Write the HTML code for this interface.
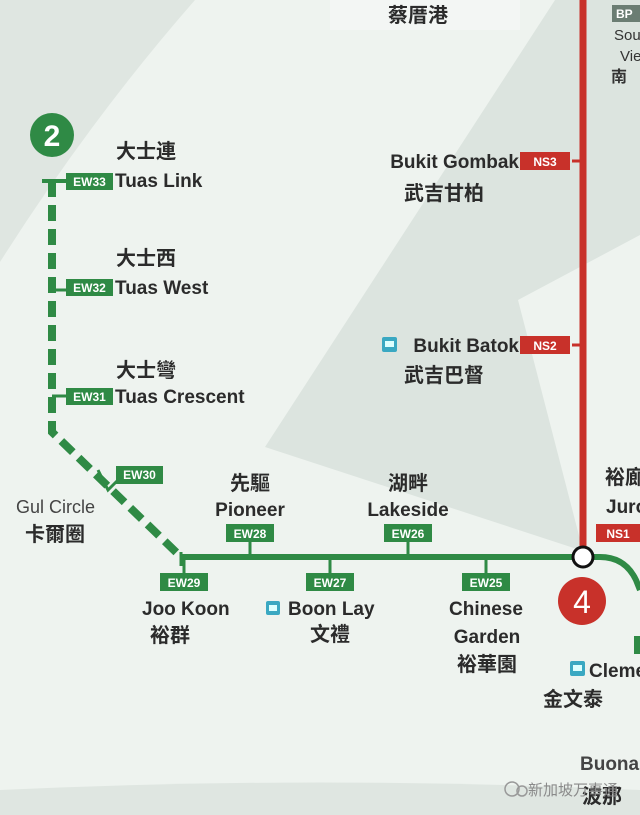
<!DOCTYPE html>
<html><head><meta charset="utf-8"><style>
html,body{margin:0;padding:0;background:#eef3ef;}
svg{display:block}
text{font-family:"Liberation Sans","Noto Sans CJK SC",sans-serif;}
.en{font-size:19px;fill:#2b2b2b;font-weight:bold;}
.cn{font-size:20px;fill:#2b2b2b;font-weight:bold;}
.code{font-size:12px;fill:#fff;font-weight:bold;}
</style></head><body>
<svg width="640" height="815" viewBox="0 0 640 815" xmlns="http://www.w3.org/2000/svg">
<rect width="640" height="815" fill="#eef3ef"/>
<path d="M0 0 L195 0 Q90 120 0 262 Z" fill="#dfe6e1"/>
<path d="M265 447 L555 0 L640 0 L640 235 L518 300 L583 551 Z" fill="#dce4df"/>
<path d="M0 790 Q320 775 640 790 L640 815 L0 815 Z" fill="#dfe6e1"/>
<rect x="330" y="0" width="190" height="30" fill="#f3f6f4"/>

<line x1="583" y1="0" x2="583" y2="557" stroke="#c8312a" stroke-width="7"/>
<line x1="572" y1="161" x2="583" y2="161" stroke="#c8312a" stroke-width="3"/>
<line x1="572" y1="345" x2="583" y2="345" stroke="#c8312a" stroke-width="3"/>

<path d="M181 557 L600 557 Q625 557 636 580 L640 590" fill="none" stroke="#2f8a45" stroke-width="6"/>
<line x1="181" y1="552" x2="181" y2="566" stroke="#2f8a45" stroke-width="3"/>
<line x1="250" y1="541" x2="250" y2="557" stroke="#2f8a45" stroke-width="3"/>
<line x1="408" y1="541" x2="408" y2="557" stroke="#2f8a45" stroke-width="3"/>
<line x1="330" y1="557" x2="330" y2="573" stroke="#2f8a45" stroke-width="3"/>
<line x1="486" y1="557" x2="486" y2="573" stroke="#2f8a45" stroke-width="3"/>
<line x1="184" y1="557" x2="184" y2="573" stroke="#2f8a45" stroke-width="3"/>

<path d="M52 181 L52 432 L180 556" fill="none" stroke="#2f8a45" stroke-width="8" stroke-dasharray="16 8"/>
<line x1="42" y1="181" x2="66" y2="181" stroke="#2f8a45" stroke-width="4"/>
<line x1="52" y1="290" x2="66" y2="290" stroke="#2f8a45" stroke-width="3"/>
<line x1="52" y1="396" x2="66" y2="396" stroke="#2f8a45" stroke-width="3"/>
<polyline points="98,470 108,490 118,480" fill="none" stroke="#2f8a45" stroke-width="3"/>

<circle cx="52" cy="135" r="22" fill="#2f8a45"/>
<text x="52" y="146" text-anchor="middle" style="font-size:30px;fill:#fff;font-weight:bold">2</text>

<g>
<rect x="66" y="173" width="47" height="17" fill="#2f8a45"/><text class="code" x="89.5" y="186" text-anchor="middle">EW33</text>
<rect x="66" y="279" width="47" height="17" fill="#2f8a45"/><text class="code" x="89.5" y="292" text-anchor="middle">EW32</text>
<rect x="66" y="388" width="47" height="17" fill="#2f8a45"/><text class="code" x="89.5" y="401" text-anchor="middle">EW31</text>
<rect x="116" y="466" width="47" height="18" fill="#2f8a45"/><text class="code" x="139.5" y="479" text-anchor="middle">EW30</text>
<rect x="226" y="524" width="48" height="18" fill="#2f8a45"/><text class="code" x="250" y="538" text-anchor="middle">EW28</text>
<rect x="384" y="524" width="48" height="18" fill="#2f8a45"/><text class="code" x="408" y="538" text-anchor="middle">EW26</text>
<rect x="160" y="573" width="48" height="18" fill="#2f8a45"/><text class="code" x="184" y="587" text-anchor="middle">EW29</text>
<rect x="306" y="573" width="48" height="18" fill="#2f8a45"/><text class="code" x="330" y="587" text-anchor="middle">EW27</text>
<rect x="462" y="573" width="48" height="18" fill="#2f8a45"/><text class="code" x="486" y="587" text-anchor="middle">EW25</text>
</g>

<rect x="520" y="152" width="50" height="18" fill="#c8312a"/><text class="code" x="545" y="166" text-anchor="middle">NS3</text>
<rect x="520" y="336" width="50" height="18" fill="#c8312a"/><text class="code" x="545" y="350" text-anchor="middle">NS2</text>
<rect x="596" y="524" width="44" height="18" fill="#c8312a"/><text class="code" x="618" y="538" text-anchor="middle">NS1</text>

<circle cx="583" cy="557" r="10" fill="#fff" stroke="#111" stroke-width="3"/>
<circle cx="582" cy="601" r="24" fill="#c8312a"/>
<text x="582" y="613" text-anchor="middle" style="font-size:32px;fill:#fff">4</text>

<text class="cn" x="116" y="158">大士連</text>
<text class="en" x="115" y="187">Tuas Link</text>
<text class="cn" x="116" y="265">大士西</text>
<text class="en" x="115" y="294">Tuas West</text>
<text class="cn" x="116" y="377">大士彎</text>
<text class="en" x="115" y="403">Tuas Crescent</text>
<text x="16" y="513" style="font-size:18px;fill:#444">Gul Circle</text>
<text class="cn" x="25" y="541">卡爾圈</text>

<text class="cn" x="250" y="490" text-anchor="middle">先驅</text>
<text class="en" x="250" y="516" text-anchor="middle">Pioneer</text>
<text class="cn" x="408" y="490" text-anchor="middle">湖畔</text>
<text class="en" x="408" y="516" text-anchor="middle">Lakeside</text>

<text class="en" x="142" y="615">Joo Koon</text>
<text class="cn" x="150" y="642">裕群</text>
<rect x="266" y="601" width="14" height="14" rx="2" fill="#3aa8c2"/>
<rect x="269" y="605" width="8" height="6" fill="#dff" />
<text class="en" x="288" y="615">Boon Lay</text>
<text class="cn" x="330" y="641" text-anchor="middle">文禮</text>
<text class="en" x="486" y="615" text-anchor="middle">Chinese</text>
<text class="en" x="487" y="643" text-anchor="middle">Garden</text>
<text class="cn" x="487" y="671" text-anchor="middle">裕華園</text>

<text class="cn" x="388" y="22">蔡厝港</text>
<text class="en" x="519" y="168" text-anchor="end">Bukit Gombak</text>
<text class="cn" x="404" y="200">武吉甘柏</text>
<rect x="382" y="337" width="15" height="15" rx="2" fill="#3aa8c2"/>
<rect x="385" y="341" width="9" height="6" fill="#dff"/>
<text class="en" x="519" y="352" text-anchor="end">Bukit Batok</text>
<text class="cn" x="404" y="382">武吉巴督</text>

<rect x="612" y="5" width="28" height="17" fill="#6b7d73"/>
<text class="code" x="616" y="18">BP</text>
<text x="614" y="40" style="font-size:15px;fill:#333">Sou</text>
<text x="620" y="61" style="font-size:15px;fill:#333">Vie</text>
<text x="611" y="82" style="font-size:16px;fill:#333;font-weight:bold">南</text>

<text class="cn" x="605" y="484">裕廊</text>
<text class="en" x="606" y="513">Jurong</text>

<rect x="570" y="661" width="15" height="15" rx="2" fill="#3aa8c2"/>
<rect x="573" y="665" width="9" height="6" fill="#dff"/>
<text class="en" x="589" y="677">Clementi</text>
<text class="cn" x="543" y="706">金文泰</text>
<rect x="634" y="636" width="8" height="18" fill="#2f8a45"/>

<text class="en" x="580" y="770" style="fill:#444">Buona</text>
<text class="cn" x="582" y="803">波那</text>

<circle cx="512" cy="789" r="7" fill="none" stroke="#999" stroke-width="1.5"/>
<circle cx="522" cy="791" r="5" fill="none" stroke="#999" stroke-width="1.5"/>
<text x="528" y="795" style="font-size:15px;fill:#8a8a8a">新加坡万事通</text>
</svg>
</body></html>
